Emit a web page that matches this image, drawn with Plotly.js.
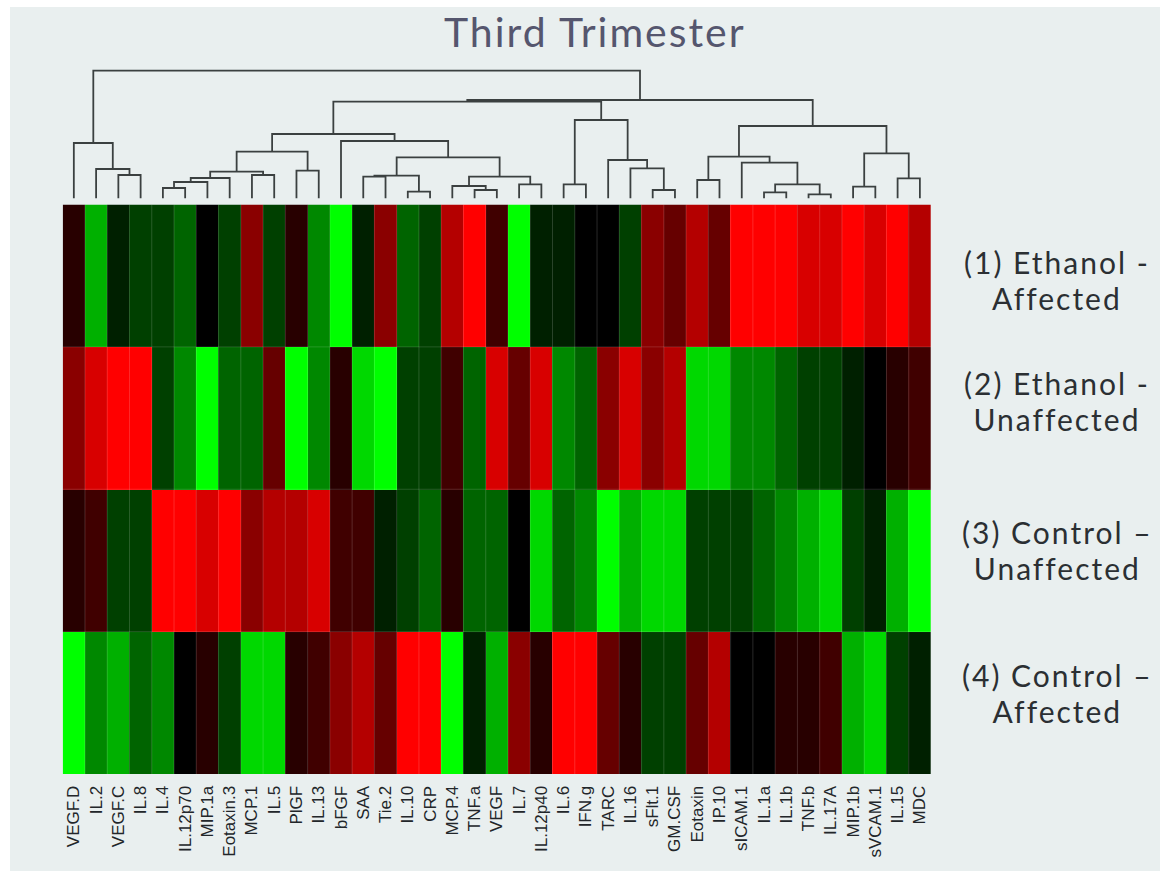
<!DOCTYPE html>
<html>
<head>
<meta charset="utf-8">
<script src="https://cdn.plot.ly/plotly-3.0.1.min.js"></script>
<style>html,body{margin:0;padding:0;background:#fff}#chart{width:1160px;height:871px}
.annotation-text{letter-spacing:2px}</style>
</head>
<body>
<div id="chart"></div>
<script>
const analytes = ["VEGF.D","IL.2","VEGF.C","IL.8","IL.4","IL.12p70","MIP.1a","Eotaxin.3","MCP.1","IL.5","PlGF","IL.13","bFGF","SAA","Tie.2","IL.10","CRP","MCP.4","TNF.a","VEGF","IL.7","IL.12p40","IL.6","IFN.g","TARC","IL.16","sFlt.1","GM.CSF","Eotaxin","IP.10","sICAM.1","IL.1a","IL.1b","TNF.b","IL.17A","MIP.1b","sVCAM.1","IL.15","MDC"];
const groupLine1 = ["(1) Ethanol -","(2) Ethanol -","(3) Control –","(4) Control –"];
const groupLine2 = ["Affected","Unaffected","Unaffected","Affected"];

// signed colour level: + red, - green, 0 black
const row1 = [1,-5,-1,-2,-2,-3,0,-2,4,-2,1,-4,-7,-1,4,-3,-2,5,7,2,-7,-1,-1,0,0,-2,4,3,5,3,7,7,7,6,6,7,6,7,5];
const row2 = [4,6,7,7,-2,-4,-7,-3,-3,3,-7,-4,1,-6,-7,-2,-2,2,-3,6,3,6,-4,-3,4,6,4,5,-6,-6,-4,-4,-3,-2,-2,-1,0,1,2];
const row3 = [1,2,-2,-2,7,7,6,7,4,5,5,6,2,2,-1,-2,-3,1,-3,-3,0,-6,-3,-4,-7,-5,-6,-6,-2,-2,-2,-3,-4,-5,-6,-2,-1,-5,-7];
const row4 = [-7,-4,-5,-3,-4,0,1,-2,-6,-6,1,2,4,5,3,7,7,-7,-1,-5,4,1,7,7,3,1,-2,-2,3,5,0,0,1,1,2,-5,-6,-2,-1];

// dendrogram merges, hclust style: negative = leaf number, positive = earlier merge number
const mergeLeft  = [-3,-2,-1,-5,4,5,-9,6,-11,8,-14,-16,11,-19,-18,-21,15,13,-13,10,-23,-27,-26,-25,21,20,-29,-32,-34,28,-31,27,-36,-38,33,32,26,3];
const mergeRight = [-4,1,2,-6,-7,-8,-10,7,-12,9,-15,-17,12,-20,14,-22,16,17,18,19,-24,-28,22,23,24,25,-30,-33,-35,29,30,31,-37,-39,34,35,36,37];
const mergeHeight = [23.5,29.5,55.5,10.5,16.5,20.5,23.5,26.8,27.8,46.8,21.8,6.8,22.8,8.5,12.5,14.2,21.8,41.2,57.5,64.5,14.2,8.5,30.2,38.5,78.5,96.8,18.5,6.2,4.2,14.2,35.8,41.8,11.8,20.2,45.2,72.5,98.5,127.8];

const W = 1160, H = 871;
const heatL = 62.7, heatR = 931, heatT = 204.5, heatB = 774, dendB = 198.5, dendT = 8.5;
const levelColors = ["#ff0000","#d80000","#b40000","#8a0000","#660000","#400000","#280000"];
const greenColors = ["#00ff00","#00d800","#00b000","#008800","#006400","#004000","#002000"];

const colorscale = [];
greenColors.forEach((c,i)=>colorscale.push([i/14,c]));
colorscale.push([0.5,"#000000"]);
levelColors.slice().reverse().forEach((c,i)=>colorscale.push([(8+i)/14,c]));

const xs = analytes.map((_,i)=>i+1);

// walk merges to lines
const nodeX = [], lineX = [], lineY = [];
function pos(n){ return n<0 ? {x:-n,h:0} : nodeX[n-1]; }
mergeHeight.forEach((h,i)=>{
  const a = pos(mergeLeft[i]), b = pos(mergeRight[i]);
  lineX.push(a.x,a.x,b.x,b.x,null);
  lineY.push(a.h,h,h,b.h,null);
  nodeX.push({x:(a.x+b.x)/2,h:h});
});

const heat = {
  type:"heatmap", x:xs, y:[1,2,3,4], z:[row1,row2,row3,row4],
  zmin:-7, zmax:7, colorscale:colorscale, showscale:false, hoverongaps:false,
  xaxis:"x", yaxis:"y"
};
const tree = {
  type:"scatter", mode:"lines", x:lineX, y:lineY,
  line:{color:"#3b4040",width:1.8}, hoverinfo:"skip", connectgaps:false,
  xaxis:"x", yaxis:"y2"
};

const shapes = [{type:"rect",xref:"paper",yref:"paper",x0:10/W,x1:1,y0:0,y1:1-7/H,fillcolor:"#e9efef",line:{width:0},layer:"below"}];
for(let i=1;i<analytes.length;i++){
  shapes.push({type:"line",xref:"x",yref:"y",x0:i+0.5,x1:i+0.5,y0:0.5,y1:4.5,line:{color:"rgba(255,255,255,0.16)",width:1}});
}
for(let j=1;j<groupLine1.length;j++){
  shapes.push({type:"line",xref:"x",yref:"y",x0:0.5,x1:analytes.length+0.5,y0:j+0.5,y1:j+0.5,line:{color:"rgba(255,255,255,0.14)",width:1}});
}

const labelFont = {family:"Lato, 'Open Sans', sans-serif",size:28,color:"#2b2f33"};
const big = t => '<span style="font-size:30px">'+t+'</span>';
const labelCY = [280,401,550,693];
const annotations = groupLine1.map((t,i)=>({
  text:big(t)+"<br>"+big(groupLine2[i]), xref:"paper", yref:"paper", x:1057/W, y:1-labelCY[i]/H,
  showarrow:false, xanchor:"center", yanchor:"middle", align:"center", font:labelFont
}));
annotations.push({
  text:"Third Trimester", xref:"paper", yref:"paper", x:595/W, y:1-32/H,
  showarrow:false, xanchor:"center", yanchor:"middle",
  font:{family:"Lato, 'Open Sans', sans-serif",size:41,color:"#55566e"}
});

const layout = {
  width:W, height:H, margin:{l:0,r:0,t:0,b:0},
  paper_bgcolor:"#ffffff", plot_bgcolor:"rgba(0,0,0,0)",
  showlegend:false, shapes:shapes, annotations:annotations,
  xaxis:{domain:[heatL/W,heatR/W],range:[0.5,analytes.length+0.5],tickmode:"array",tickvals:xs,ticktext:analytes,
    tickangle:-90,ticks:"outside",ticklen:4,tickcolor:"rgba(0,0,0,0)",showgrid:false,zeroline:false,showline:false,
    tickfont:{family:"'Liberation Sans', Arial, sans-serif",size:17,color:"#22262a"},fixedrange:true,automargin:false},
  yaxis:{domain:[1-heatB/H,1-heatT/H],range:[4.5,0.5],showticklabels:false,ticks:"",showgrid:false,zeroline:false,showline:false,fixedrange:true},
  yaxis2:{domain:[1-dendB/H,1-dendT/H],range:[0,dendB-dendT],showticklabels:false,ticks:"",showgrid:false,zeroline:false,showline:false,fixedrange:true,anchor:"x"}
};
Plotly.newPlot("chart",[heat,tree],layout,{displayModeBar:false,responsive:false});
</script>
</body>
</html>
